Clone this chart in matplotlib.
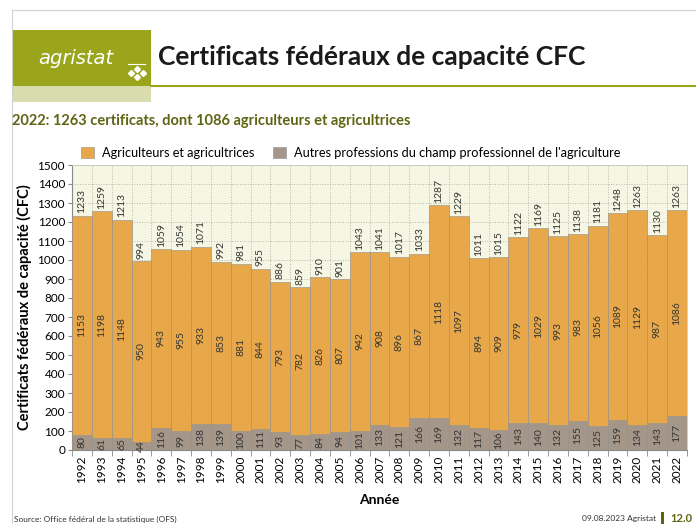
import matplotlib.pyplot as plt
from matplotlib.patches import Rectangle
import numpy as np

plt.rcParams['font.family'] = ['Lato', 'DejaVu Sans']

years = list(range(1992, 2023))
agri = [1153, 1198, 1148, 950, 943, 955, 933, 853, 881, 844, 793, 782, 826, 807, 942,
        908, 896, 867, 1118, 1097, 894, 909, 979, 1029, 993, 983, 1056, 1089, 1129, 987, 1086]
autres = [80, 61, 65, 44, 116, 99, 138, 139, 100, 111, 93, 77, 84, 94, 101,
          133, 121, 166, 169, 132, 117, 106, 143, 140, 132, 155, 125, 159, 134, 143, 177]
totals = [1233, 1259, 1213, 994, 1059, 1054, 1071, 992, 981, 955, 886, 859, 910, 901, 1043,
          1041, 1017, 1033, 1287, 1229, 1011, 1015, 1122, 1169, 1125, 1138, 1181, 1248, 1263, 1130, 1263]

c_agri = '#E8A849'
c_autres = '#A5968A'
c_bg = '#F6F6E4'
c_green = '#9AA51C'

fig = plt.figure(figsize=(6.96, 5.24), dpi=100)
W, H = 696, 524

def fx(x):
    return x / W

def fy(y):
    return 1 - y / H

# frame lines
fig.add_artist(plt.Line2D([fx(12), 1], [fy(10), fy(10)], color='#d0d0d0', lw=0.8))
fig.add_artist(plt.Line2D([fx(12), fx(12)], [fy(10), 0], color='#d0d0d0', lw=0.8))

# header logo block
fig.add_artist(Rectangle((fx(13), fy(86)), fx(138), 56 / H, color=c_green, lw=0))
fig.add_artist(Rectangle((fx(13), fy(102)), fx(138), 16 / H, color='#D9DCAE', lw=0))
fig.add_artist(plt.Line2D([fx(151), 1], [fy(86), fy(86)], color=c_green, lw=1.5))
fig.text(fx(38), fy(58), 'agristat', color='white', fontsize=14, style='italic',
         family='DejaVu Sans', va='center', ha='left')
fig.add_artist(plt.Line2D([fx(128), fx(145)], [fy(64), fy(64)], color='white', lw=0.8))
for (px, py) in [(137, 69), (131, 73), (143, 73), (137, 77)]:
    fig.add_artist(plt.Line2D([fx(px)], [fy(py)], marker='D', ms=3, color='white', lw=0))
fig.text(fx(158), fy(57), 'Certificats fédéraux de capacité CFC', fontsize=19,
         fontweight='bold', color='#1a1a1a', va='center', ha='left')

fig.text(fx(12), fy(121), '2022: 1263 certificats, dont 1086 agriculteurs et agricultrices',
         fontsize=10.5, fontweight='bold', color='#5E6412', va='center', ha='left')

ax = fig.add_axes([fx(72), fy(450), fx(687) - fx(72), (450 - 165) / H])
ax.set_facecolor(c_bg)
x = np.arange(len(years))
ax.bar(x, autres, width=1, color=c_autres, edgecolor='#8f8f8f', lw=0.4, zorder=3,
       label="Autres professions du champ professionnel de l'agriculture")
ax.bar(x, agri, width=1, bottom=autres, color=c_agri, edgecolor='#8f8f8f', lw=0.4, zorder=3,
       label='Agriculteurs et agricultrices')

for i in range(len(years)):
    ax.text(x[i], autres[i] / 2, str(autres[i]), rotation=90, ha='center', va='center',
            fontsize=7.5, color='#333333', zorder=4)
    ax.text(x[i], autres[i] + agri[i] / 2, str(agri[i]), rotation=90, ha='center', va='center',
            fontsize=7.5, color='#333333', zorder=4)
    ax.text(x[i], totals[i] + 12, str(totals[i]), rotation=90, ha='center', va='bottom',
            fontsize=7.5, color='#333333', zorder=4)

ax.set_xlim(-0.5, len(years) - 0.5)
ax.set_ylim(0, 1500)
ax.set_yticks(range(0, 1501, 100))
ax.set_xticks(x)
ax.set_xticklabels([str(y) for y in years], rotation=90, fontsize=8.5)
ax.tick_params(axis='x', length=0, pad=4)
ax.set_xticks(np.arange(-0.5, len(years), 1), minor=True)
ax.tick_params(axis='x', which='minor', length=4, color='#888888')
ax.tick_params(axis='y', labelsize=8.5, length=3, color='#888888', pad=2)
ax.grid(axis='y', which='major', linestyle=':', color='#b8b8a8', lw=0.7, zorder=0)
ax.grid(axis='x', which='minor', linestyle=':', color='#b8b8a8', lw=0.7, zorder=0)
for s in ['top', 'right']:
    ax.spines[s].set_color('#c8c8c8')
    ax.spines[s].set_linewidth(0.6)
for s in ['left', 'bottom']:
    ax.spines[s].set_color('#888888')
    ax.spines[s].set_linewidth(0.8)

ax.set_xlabel('Année', fontsize=10, fontweight='bold', labelpad=8)
ax.set_ylabel('Certificats fédéraux de capacité (CFC)', fontsize=10.5, fontweight='bold', labelpad=4)

h, l = ax.get_legend_handles_labels()
fig.legend(h[::-1], l[::-1], loc='center left', bbox_to_anchor=(fx(76), fy(153)), ncol=2,
           frameon=False, fontsize=9.2, handlelength=1.0, handleheight=1.0,
           columnspacing=1.5, handletextpad=0.6, borderaxespad=0)

fig.text(fx(14), fy(519), 'Source: Office fédéral de la statistique (OFS)', fontsize=6,
         color='#333333', va='center')
fig.text(fx(656), fy(519), '09.08.2023 Agristat', fontsize=6, color='#333333', va='center', ha='right')
fig.add_artist(Rectangle((fx(661), fy(524)), fx(3), 12 / H, color='#5E6412', lw=0))
fig.text(fx(670), fy(519), '12.0', fontsize=8, fontweight='bold', color='#5E6412', va='center')

fig.savefig('out.png', dpi=100, facecolor='white')
